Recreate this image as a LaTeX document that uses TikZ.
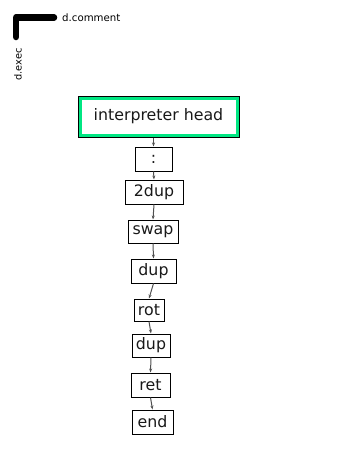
\documentclass[tikz,border=0pt]{standalone}
\usepackage{fontspec}
\setmainfont{DejaVu Sans}
\usetikzlibrary{arrows.meta}
\definecolor{headgreen}{RGB}{0,230,130}
\definecolor{arrgray}{RGB}{80,80,80}
\tikzset{
  word/.style={draw=black, line width=1pt, inner sep=0pt, font=\fontsize{15.8}{18}\selectfont, text=black!90},
  arr/.style={draw=arrgray, line width=1pt, -{Stealth[length=4pt,width=3pt]}},
  legendline/.style={line width=6.5pt, line cap=round, line join=round},
}
\begin{document}
\begin{tikzpicture}[x=1pt,y=-1pt]
\useasboundingbox (0,0) rectangle (339,469);
% legend
\coordinate (lc) at (16,17.5);
\coordinate (lh) at (54,17.5);
\coordinate (lv) at (16,37);
\draw[legendline] (lh) -- (lc) -- (lv);
\node[anchor=west, font=\fontsize{10.2}{12}\selectfont, inner sep=0pt] (dcomment) at (62,18) {d.comment};
\node[rotate=90, font=\fontsize{9.8}{12}\selectfont, inner sep=0pt] (dexec) at (18,64.5) {d.exec};
% head
\node[word, minimum width=161pt, minimum height=41pt] (head) at (158.5,116.5) {interpreter head};
\draw[headgreen, line width=3pt] ([shift={(2.5pt,2.5pt)}]head.south west) rectangle ([shift={(-2.5pt,-2.5pt)}]head.north east);
% chain
\node[word, minimum width=37pt, minimum height=24pt] (colon) at (153.5,159) {:};
\node[word, minimum width=58pt, minimum height=24pt] (twodup) at (154,192) {2dup};
\node[word, minimum width=50pt, minimum height=23pt] (swap) at (153,231.5) {swap};
\node[word, minimum width=45pt, minimum height=24pt] (dupa) at (153.5,271) {dup};
\node[word, minimum width=30pt, minimum height=22pt] (rot) at (149,310) {rot};
\node[word, minimum width=38pt, minimum height=23pt] (dupb) at (151,345.5) {dup};
\node[word, minimum width=39pt, minimum height=24pt] (ret) at (150.5,385) {ret};
\node[word, minimum width=41pt, minimum height=24pt] (endn) at (152.5,422) {end};
% connectors
\draw[arr] (head.south -| colon.north) -- (colon.north);
\draw[arr] (colon.south) -- (twodup.north);
\draw[arr] (twodup.south) -- (swap.north);
\draw[arr] (swap.south) -- (dupa.north);
\draw[arr] (dupa.south) -- (rot.north);
\draw[arr] (rot.south) -- (dupb.north);
\draw[arr] (dupb.south) -- (ret.north);
\draw[arr] (ret.south) -- (endn.north);
\end{tikzpicture}
\end{document}
